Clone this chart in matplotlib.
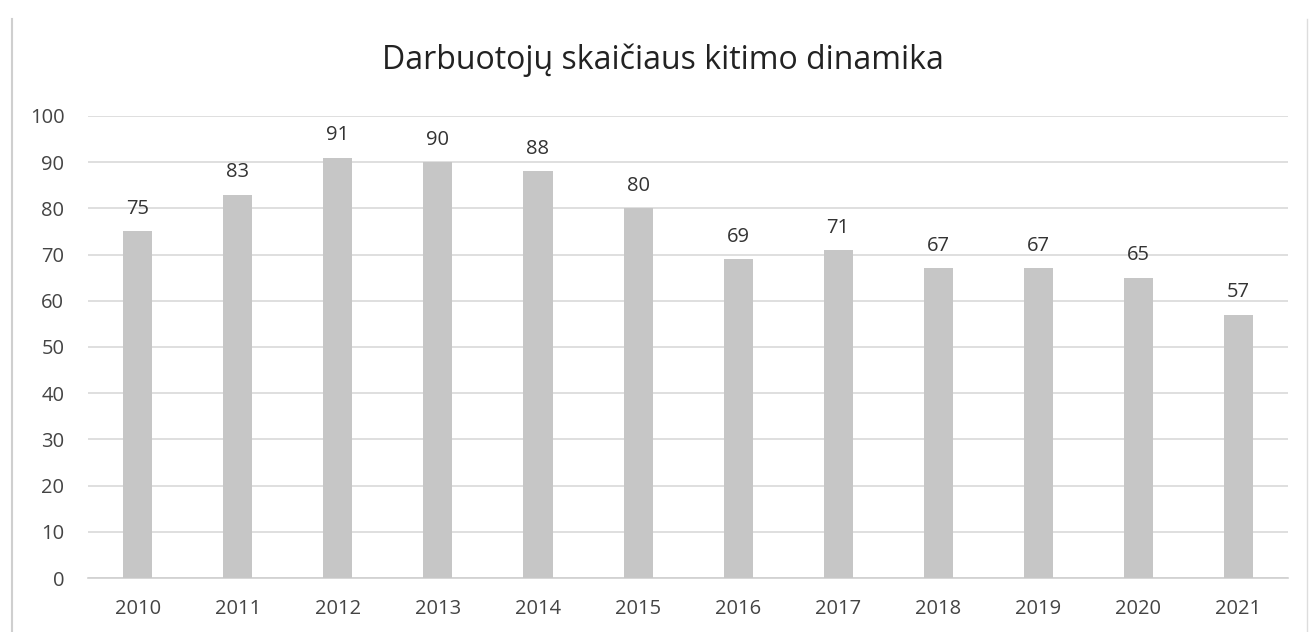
import matplotlib
matplotlib.use("Agg")
import matplotlib.pyplot as plt
from matplotlib.lines import Line2D

years = ["2010", "2011", "2012", "2013", "2014", "2015",
         "2016", "2017", "2018", "2019", "2020", "2021"]
workers = [75, 83, 91, 90, 88, 80, 69, 71, 67, 67, 65, 57]

title = "Darbuotojų skaičiaus kitimo dinamika"

plt.rcParams['font.family'] = ['Open Sans', 'DejaVu Sans']

fig = plt.figure(figsize=(13.09, 6.32), dpi=100)
ax = fig.add_axes([0.0672, 0.0854, 0.9168, 0.7311])

x = range(len(years))
bars = ax.bar(x, workers, width=0.29, color="#c6c6c6", zorder=3)

for b, v in zip(bars, workers):
    ax.annotate(str(v), (b.get_x() + b.get_width() / 2, v),
                xytext=(0, 12.5), textcoords="offset points",
                ha="center", va="baseline", fontsize=14.5, color="#333333")

ax.set_xlim(-0.5, len(years) - 0.5)
ax.set_ylim(0, 100)
ax.set_yticks(range(0, 101, 10))
ax.set_xticks(list(x))
ax.set_xticklabels(years)
ax.tick_params(axis="both", length=0, labelsize=14.5, colors="#444444")
ax.tick_params(axis="x", pad=15)
ax.tick_params(axis="y", pad=17)
ax.grid(axis="y", color="#d9d9d9", linewidth=1.2, zorder=0)
for s in ["top", "right", "left"]:
    ax.spines[s].set_visible(False)
ax.spines["bottom"].set_color("#d0d0d0")
ax.spines["bottom"].set_linewidth(1.2)

fig.text(0.5065, 0.905, title, ha="center", va="center", fontsize=23, color="#222222")

# scanned page frame lines
fig.add_artist(Line2D([0.0092, 0.0092], [0.0, 0.97], color="#cfcfcf", lw=1.5))
fig.add_artist(Line2D([0.9985, 0.9985], [0.0, 0.97], color="#dddddd", lw=1.0))

fig.savefig("out.png", dpi=100, facecolor="white")
